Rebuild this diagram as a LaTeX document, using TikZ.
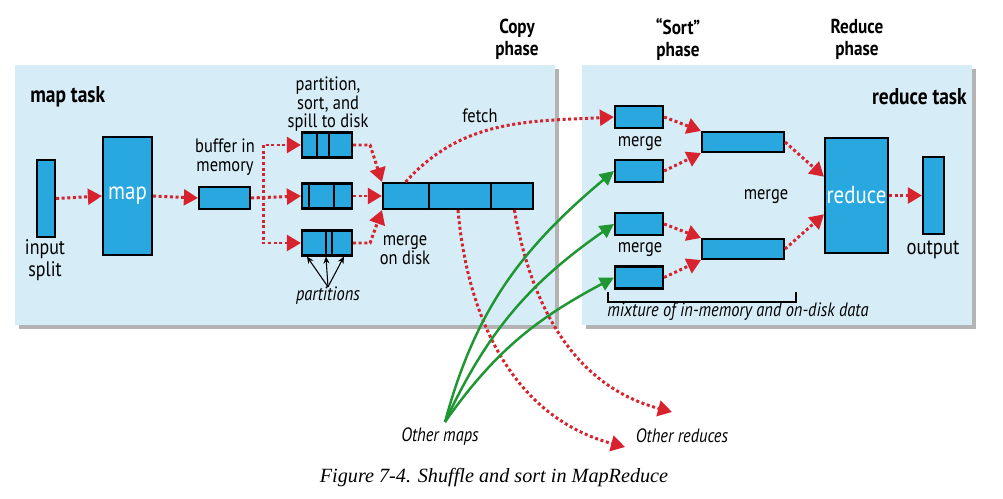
\documentclass[tikz,border=0pt]{standalone}
\usepackage{fontspec}
\setmainfont{PT Sans}[FakeStretch=0.85]
\newfontfamily\pie{Liberation Serif}
\usetikzlibrary{arrows.meta,shadows,calc}

\begin{document}
\begin{tikzpicture}[x=0.02cm, y=0.02cm,
  caja/.style={draw=black, line width=1.2pt, fill=azulCaja, inner sep=0pt},
  panel/.style={fill=azulFondo, drop shadow={shadow xshift=2.5pt, shadow yshift=-2.5pt, fill=gray, opacity=0.6}},
  texto/.style={font=\fontsize{11}{10.5}\selectfont, align=center, inner sep=0pt},
  titulo/.style={font=\fontsize{11.5}{12.5}\selectfont\bfseries, align=center, inner sep=0pt},
  flecha/.style={draw=rojoFlecha, line width=1.7pt, dash pattern=on 1.7pt off 1.5pt, -{Triangle[length=8pt,width=9pt]}},
  verde/.style={draw=verdeFlecha, line width=1.4pt, -{Triangle[length=8pt,width=8pt]}}]
  \definecolor{azulCaja}{RGB}{41,168,224}
  \definecolor{azulFondo}{RGB}{214,236,247}
  \definecolor{rojoFlecha}{RGB}{215,35,45}
  \definecolor{verdeFlecha}{RGB}{30,150,50}

  \useasboundingbox (0,0) rectangle (1003,498);

  \fill[panel] (15,173) rectangle (555,433);
  \fill[panel] (582,173) rectangle (972,433);

  \node[titulo] (tC) at (517,459) {Copy\\phase};
  \node[titulo] (tS) at (678,459) {``Sort''\\phase};
  \node[titulo] (tR) at (857,459) {Reduce\\phase};
  \node[titulo, font=\fontsize{13}{14}\selectfont\bfseries, anchor=west] (tM) at (30,401) {map task};
  \node[titulo, font=\fontsize{13}{14}\selectfont\bfseries, anchor=east] (tT) at (967,401) {reduce task};

  \node[caja, minimum width=0.36cm, minimum height=1.54cm] (E) at (46,299.5) {};
  \node[caja, minimum width=0.98cm, minimum height=2.36cm, text=white, font=\fontsize{14}{14}\selectfont] (Map) at (127.5,302) {map};
  \node[caja, minimum width=1.02cm, minimum height=0.44cm] (B) at (224.5,300) {};
  \node[caja, minimum width=1cm, minimum height=0.5cm] (S1) at (327,353) {};
  \node[caja, minimum width=1cm, minimum height=0.5cm] (S2) at (327,302) {};
  \node[caja, minimum width=1cm, minimum height=0.5cm] (S3) at (327,255) {};
  \node[caja, minimum width=3cm, minimum height=0.52cm] (M) at (458,302) {};
  \foreach \n/\d in {S1/16,S1/28,S2/8,S2/33,S3/25,S3/31,M/47,M/109}
    \draw[line width=1.2pt] ($(\n.south west)+(\d,0)$) -- ($(\n.north west)+(\d,0)$);

  \node[texto, font=\fontsize{12}{12.5}\selectfont] (tE) at (45,238) {input\\split};
  \node[texto] (tB) at (225,341) {buffer in\\memory};
  \node[texto, font=\fontsize{11}{9}\selectfont] (tS1) at (328,394) {partition,\\sort, and\\spill to disk};
  \node[texto] (tMd) at (405,248) {merge\\on disk};
  \node[texto, font=\fontsize{11}{10}\selectfont\itshape] (tP) at (328,202) {partitions};
  \node[texto] (tF) at (480,382) {fetch};

  \node[caja, minimum width=0.96cm, minimum height=0.44cm] (R1) at (639,381) {};
  \node[caja, minimum width=0.96cm, minimum height=0.44cm] (R2) at (639,327) {};
  \node[caja, minimum width=0.96cm, minimum height=0.44cm] (R3) at (639,274) {};
  \node[caja, minimum width=0.96cm, minimum height=0.44cm] (R4) at (639,220.5) {};
  \node[caja, minimum width=1.64cm, minimum height=0.4cm] (F1) at (743,356) {};
  \node[caja, minimum width=1.64cm, minimum height=0.4cm] (F2) at (743,249) {};
  \node[caja, minimum width=1.26cm, minimum height=2.3cm, text=white, font=\fontsize{14}{14}\selectfont] (Rd) at (856.5,302.5) {reduce};
  \node[caja, minimum width=0.42cm, minimum height=1.54cm] (O) at (933.5,302.5) {};

  \node[texto] (tG1) at (640,354) {merge};
  \node[texto] (tG2) at (640,248) {merge};
  \node[texto] (tG3) at (766,301) {merge};
  \node[texto, font=\fontsize{12.5}{12}\selectfont] (tO) at (933,248) {output};
  \node[texto, font=\fontsize{11}{10}\selectfont\itshape] (tX) at (738,186) {mixture of in-memory and on-disk data};
  \draw[line width=0.8pt] (608,206) -- (608,196) -- (796,196) -- (796,206);

  \node[texto, font=\fontsize{11}{10}\selectfont\itshape] (tOM) at (440,61) {Other maps};
  \node[texto, font=\fontsize{11}{10}\selectfont\itshape] (tOR) at (682,62) {Other reduces};
  \coordinate (om) at (445,76);
  \coordinate (r1) at (625,51);
  \coordinate (r2) at (672,86);

  \node[font=\pie\itshape\fontsize{11.5}{13}\selectfont, inner sep=0pt] (cap) at (494,20) {Figure 7-4. Shuffle and sort in MapReduce};

  \draw[flecha] (E.east) -- (Map.west);
  \draw[flecha] (Map.east) -- (B.west);
  \draw[flecha] (B.east) -- ++(12,0) |- (S1.west);
  \draw[flecha] (B.east) -- (S2.west);
  \draw[flecha] (B.east) -- ++(12,0) |- (S3.west);
  \draw[flecha] (S1.east) -- ++(17,0) -- (M.north west);
  \draw[flecha] (S2.east) -- (M.west);
  \draw[flecha] (S3.east) -- ++(17,0) -- (M.south west);
  \foreach \d in {6,25,43}
    \draw[-{Stealth[length=4pt,width=3.5pt]}, line width=0.6pt] (tP.north) -- ($(S3.south west)+(\d,0)$);

  \draw[flecha] (M.165) to[out=48, in=183] (R1.west);
  \draw[flecha] (M.south) to[out=-85, in=165] (r1);
  \draw[flecha] (M.346) to[out=-80, in=165] (r2);

  \draw[verde] (om) to[out=75, in=220] (R2.west);
  \draw[verde] (om) to[out=65, in=215] (R3.west);
  \draw[verde] (om) to[out=55, in=208] (R4.west);

  \draw[flecha] (R1.east) -- (F1.north west);
  \draw[flecha] (R2.east) -- (F1.south west);
  \draw[flecha] (R3.east) -- (F2.north west);
  \draw[flecha] (R4.east) -- (F2.south west);
  \draw[flecha] (F1.east) -- (Rd.150);
  \draw[flecha] (F2.east) -- (Rd.210);
  \draw[flecha] (Rd.east) -- (O.west);
\end{tikzpicture}
\end{document}
